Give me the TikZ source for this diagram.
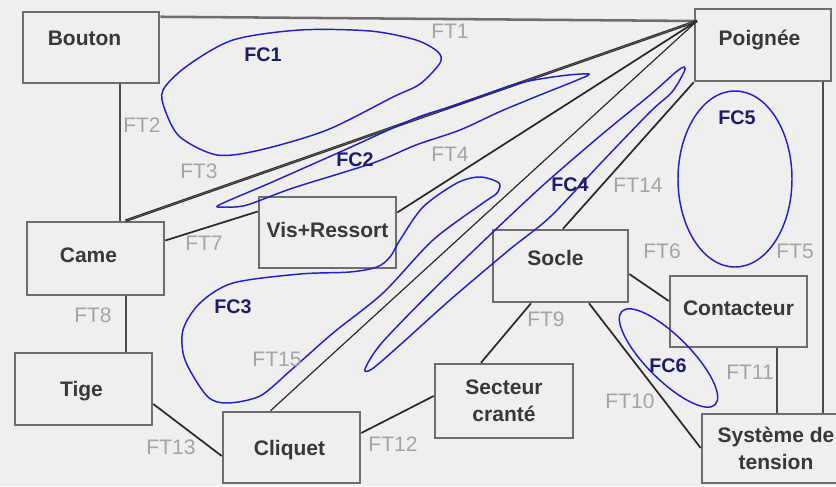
\documentclass[tikz,border=0pt]{standalone}
\usepackage{fontspec}
\setmainfont{Liberation Sans}
\usetikzlibrary{calc}
\definecolor{bg}{HTML}{EFEFEF}
\definecolor{boxc}{HTML}{6E6E6E}
\definecolor{txt}{HTML}{383838}
\definecolor{ftc}{HTML}{A3A3A3}
\definecolor{fcc}{HTML}{1C1C6E}
\definecolor{blu}{HTML}{2020D0}
\definecolor{lnc}{HTML}{2A2A2A}
\begin{document}
\begin{tikzpicture}[x=0.75pt,y=-0.75pt,
  box/.style={draw=boxc, line width=1.9pt, text=txt, font=\bfseries\fontsize{15.75pt}{20.25pt}\selectfont, inner sep=0pt},
  boxml/.style={box, align=center},
  bx/.style 2 args={minimum width=#1*0.75pt, minimum height=#2*0.75pt},
  tshift/.style={text height=11.3pt, text depth=#1},
  ft/.style={text=ftc, font=\fontsize{15.75pt}{18pt}\selectfont, inner sep=0pt},
  fc/.style={text=fcc, font=\bfseries\fontsize{14.8pt}{17pt}\selectfont, inner sep=0pt},
  conn/.style={draw=lnc, line width=1.3pt},
  thinconn/.style={draw=lnc, line width=0.9pt},
  grayconn/.style={draw=boxc, line width=1.9pt},
  midconn/.style={draw=black!70, line width=1.5pt},
  fcline/.style={draw=blu, line width=1.1pt},
]
\clip (0,0) rectangle (836,486);
\useasboundingbox (0,0) rectangle (836,486);
\fill[bg] (0,0) rectangle (836,486);

% boxes
\node[box,bx={136}{71},tshift=15pt] (bouton) at (91,47.5) {Bouton\hspace*{9.75pt}};
\node[box,bx={136}{72},tshift=10.5pt] (poignee) at (763,45) {Poignée\hspace*{5.25pt}};
\node[box,bx={137}{73},tshift=5.25pt] (came) at (95.5,258.5) {Came\hspace*{10.5pt}};
\node[box,bx={137}{71},tshift=4.5pt] (vis) at (327.5,232.5) {Vis+Ressort};
\node[box,bx={137}{72},tshift=0pt] (tige) at (83.5,389) {Tige\hspace*{3pt}};
\node[box,bx={137}{71},tshift=0pt] (cliquet) at (291.5,447.5) {Cliquet\hspace*{3pt}};
\node[box,bx={135}{72},tshift=12pt] (socle) at (560.5,266) {Socle\hspace*{7.5pt}};
\node[box,bx={137}{71},tshift=5.25pt] (contacteur) at (738.5,311.5) {Contacteur};
\node[boxml,bx={138}{74}] (secteur) at (504,401) {Secteur\\cranté};
\node[boxml,bx={148}{69}] (systeme) at (776,448.5) {Système de\\tension};

\coordinate (pc) at (697,21);

% connectors
\draw[grayconn] ($(bouton.north east)+(0,6)$) -- (pc);
\draw[midconn] ($(bouton.south)+(29,0)$) -- ($(came.north)+(24.5,0)$);
\draw[draw=lnc, double=black!55, double distance=0.4pt, line width=0.8pt] ($(came.north)+(30,0)$) -- (pc);
\draw[conn] ($(came.east)+(0,-18)$) -- ($(vis.west)+(0,-21)$);
\draw[conn] ($(vis.east)+(0,-20)$) -- (pc);
\draw[thinconn] ($(cliquet.north)+(-21,0)$) -- (pc);
\draw[conn] ($(socle.north)+(2.5,0)$) -- (poignee.south west);
\draw[midconn] ($(came.south)+(30.5,0)$) -- ($(tige.north)+(42.5,0)$);
\draw[conn] ($(tige.east)+(0,15)$) -- ($(cliquet.west)+(0,8.5)$);
\draw[conn] ($(cliquet.east)+(0,-14.5)$) -- ($(secteur.west)+(0,-5)$);
\draw[conn] ($(secteur.north)+(-23,0)$) -- ($(socle.south)+(-29.5,0)$);
\draw[conn] ($(socle.east)+(0,8)$) -- ($(contacteur.west)+(0,-10.5)$);
\draw[conn] ($(socle.south)+(28.5,0)$) -- ($(systeme.west)+(0,-0.5)$);
\draw[midconn] ($(contacteur.south)+(38.5,0)$) -- ($(systeme.north)+(1,0)$);
\draw[midconn] ($(poignee.south)+(60,0)$) -- ($(systeme.north)+(47,0)$);

% FC curves
\draw[fcline] plot[smooth cycle] coordinates {(163,90) (187,66) (233,40) (300,30) (370,31) (416,40) (438,52) (440,63) (420,84) (393,97) (327,130) (260,150) (217,155) (180,137) (165,110)};
\draw[fcline] plot[smooth cycle, tension=0.5] coordinates {(219,205) (270,183) (340,152) (416,118) (460,104) (516,84) (560,76) (589,74) (575,81) (540,95) (499,112) (460,130) (416,145) (373,163) (293,188) (247,205) (226,207)};
\draw[fcline] plot[smooth cycle, tension=0.5] coordinates {(499,183) (480,177) (457,183) (423,207) (400,240) (390,257) (377,267) (350,272) (300,274) (233,283) (200,303) (183,330) (185,360) (207,396) (227,403) (260,396) (290,371) (333,333) (383,293) (433,240) (483,203) (497,193)};
\draw[fcline] plot[smooth cycle, tension=0.5] coordinates {(365,369) (380,345) (420,303) (470,254) (540,188) (600,136) (650,95) (676,72) (684,67) (684,72) (672,92) (650,112) (600,164) (550,217) (509,250) (450,300) (400,345) (372,369)};
\draw[fcline] (735,179) ellipse [x radius=57, y radius=88];
\draw[fcline, rotate around={-45:(668.5,358)}] (668.5,358) ellipse [x radius=66, y radius=22];

% FC labels
\node[fc] (fc1) at (263,55) {FC1};
\node[fc] (fc2) at (355,160) {FC2};
\node[fc] (fc3) at (233,307) {FC3};
\node[fc] (fc4) at (570,185) {FC4};
\node[fc] (fc5) at (737,118) {FC5};
\node[fc] (fc6) at (668,366) {FC6};

% FT labels
\node[ft] (ft1) at (450,31) {FT1};
\node[ft] (ft2) at (142,125) {FT2};
\node[ft] (ft3) at (199,171) {FT3};
\node[ft] (ft4) at (450,154) {FT4};
\node[ft] (ft5) at (795,251) {FT5};
\node[ft] (ft6) at (662,251) {FT6};
\node[ft] (ft7) at (204,243) {FT7};
\node[ft] (ft8) at (93,315) {FT8};
\node[ft] (ft9) at (546,319) {FT9};
\node[ft] (ft10) at (630,401) {FT10};
\node[ft] (ft11) at (750,372) {FT11};
\node[ft] (ft12) at (393,444) {FT12};
\node[ft] (ft13) at (171,447) {FT13};
\node[ft] (ft14) at (638,185) {FT14};
\node[ft] (ft15) at (277,359) {FT15};
\end{tikzpicture}
\end{document}
